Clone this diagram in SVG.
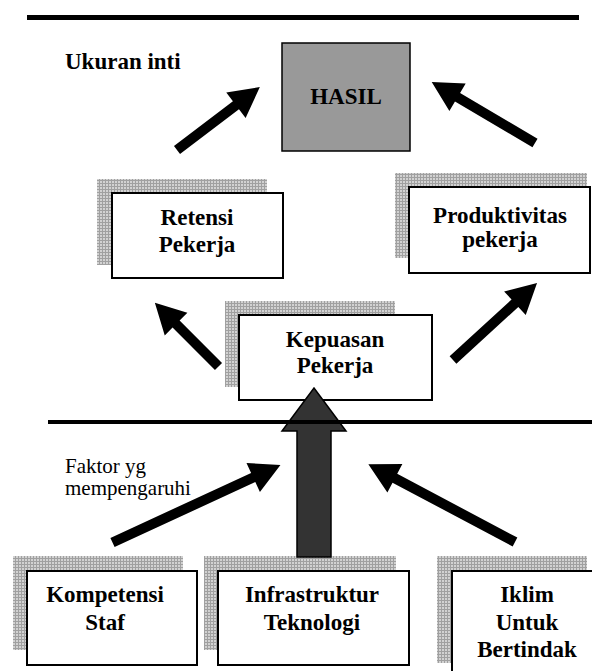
<svg xmlns="http://www.w3.org/2000/svg" width="592" height="671" viewBox="0 0 592 671">
  <defs>
    <pattern id="grid" width="3" height="3" patternUnits="userSpaceOnUse">
      <rect width="3" height="3" fill="#d2d2d2"/>
      <path d="M0 0.5H3M0.5 0V3" stroke="#a0a0a0" stroke-width="1"/>
    </pattern>
  </defs>
  <style>
    .shadow { fill: url(#grid); }
    .box { fill: #ffffff; stroke: #000000; stroke-width: 2; }
    .result { fill: #999999; stroke: #000000; stroke-width: 1.5; }
    text { font-family: 'Liberation Serif', 'DejaVu Serif', serif; fill: #000; }
    .label { font-weight: bold; font-size: 23px; text-anchor: middle; }
    .caption { font-size: 21px; }
    .heading { font-weight: bold; font-size: 23px; }
    .arrow { fill: #000000; }
    .rule { stroke: #000000; }
  </style>

  <rect width="592" height="671" fill="#ffffff"/>

  <text class="heading" x="65" y="69" font-family="Liberation Serif, serif">Ukuran inti</text>
  <text class="caption" x="65" y="473" font-family="Liberation Serif, serif">Faktor yg</text>
  <text class="caption" x="65" y="495" font-family="Liberation Serif, serif">mempengaruhi</text>

  <g id="hasil">
    <rect class="result" x="282" y="43" width="128" height="108"/>
    <text class="label" x="346" y="104">HASIL</text>
  </g>

  <g id="retensi">
    <rect class="shadow" x="97" y="179" width="170" height="86"/>
    <rect class="box" x="112" y="193" width="171" height="85"/>
    <text class="label" x="197" y="225">Retensi</text>
    <text class="label" x="197" y="252">Pekerja</text>
  </g>

  <g id="produktivitas">
    <rect class="shadow" x="395" y="173" width="192" height="85"/>
    <rect class="box" x="409" y="187" width="181" height="86"/>
    <text class="label" x="500" y="223">Produktivitas</text>
    <text class="label" x="500" y="247">pekerja</text>
  </g>

  <g id="kepuasan">
    <rect class="shadow" x="225" y="301" width="170" height="86"/>
    <rect class="box" x="239" y="315" width="193" height="85"/>
    <text class="label" x="335" y="347">Kepuasan</text>
    <text class="label" x="335" y="373">Pekerja</text>
  </g>

  <g id="kompetensi">
    <rect class="shadow" x="13" y="556" width="170" height="94"/>
    <rect class="box" x="27" y="571" width="170" height="94"/>
    <text class="label" x="105" y="602">Kompetensi</text>
    <text class="label" x="105" y="630">Staf</text>
  </g>

  <g id="infrastruktur">
    <rect class="shadow" x="204" y="556" width="192" height="94"/>
    <rect class="box" x="218" y="571" width="191" height="94"/>
    <text class="label" x="312" y="602">Infrastruktur</text>
    <text class="label" x="312" y="630">Teknologi</text>
  </g>

  <g id="iklim">
    <rect class="shadow" x="437" y="556" width="150" height="107"/>
    <rect class="box" x="452" y="571" width="142" height="110"/>
    <text class="label" x="527" y="602">Iklim</text>
    <text class="label" x="527" y="630">Untuk</text>
    <text class="label" x="527" y="657">Bertindak</text>
  </g>

  <g id="connectors">
    <!-- top-left: Retensi -> Hasil -->
    <path class="arrow" transform="translate(177,150) rotate(-37.2)" d="M0 -5H74V-16L104 0L74 16V5H0Z"/>
    <!-- top-right: Produktivitas -> Hasil -->
    <path class="arrow" transform="translate(535,143) rotate(210.6)" d="M0 -5H90V-16L120 0L90 16V5H0Z"/>
    <!-- middle-left: Kepuasan -> Retensi -->
    <path class="arrow" transform="translate(218.5,366.5) rotate(225)" d="M0 -5H60V-16L90 0L60 16V5H0Z"/>
    <!-- middle-right: Kepuasan -> Produktivitas -->
    <path class="arrow" transform="translate(453,360) rotate(-42.5)" d="M0 -5H84V-16L114 0L84 16V5H0Z"/>
    <!-- bottom-left: Kompetensi -> Kepuasan -->
    <path class="arrow" transform="translate(112.5,542.5) rotate(-24.8)" d="M0 -5H155V-16L185 0L155 16V5H0Z"/>
    <!-- bottom-right: Iklim -> Kepuasan -->
    <path class="arrow" transform="translate(515,542) rotate(207.95)" d="M0 -5H136V-16L166 0L136 16V5H0Z"/>
    <!-- central block arrow: Infrastruktur -> Kepuasan -->
    <path d="M297 557V431H282L314 388L346 431H331V557Z" fill="#333333" stroke="#000000" stroke-width="1.5"/>
  </g>

  <line class="rule" x1="27" y1="17.5" x2="579" y2="17.5" stroke-width="5"/>
  <line class="rule" x1="48" y1="422" x2="592" y2="422" stroke-width="4"/>
</svg>
